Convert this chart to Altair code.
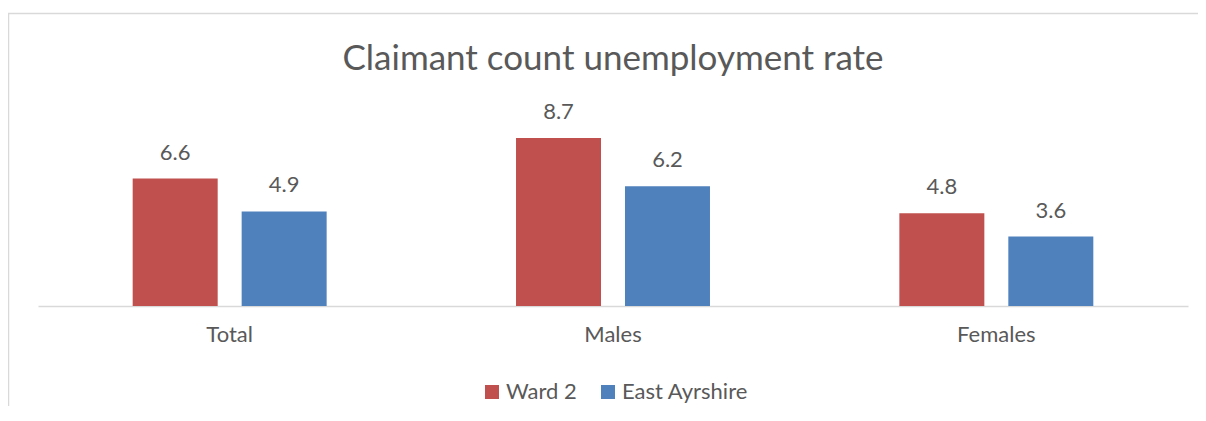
import altair as alt
import pandas as pd

categories = ["Total", "Males", "Females"]
series = ["Ward 2", "East Ayrshire"]
ward2 = [6.6, 8.7, 4.8]
east_ayrshire = [4.9, 6.2, 3.6]
title_text = "Claimant count unemployment rate"

rows = []
for i, c in enumerate(categories):
    rows.append({"Category": c, "Series": series[0], "Value": ward2[i]})
    rows.append({"Category": c, "Series": series[1], "Value": east_ayrshire[i]})
df = pd.DataFrame(rows)

FONT = "Lato"
TXT = "#595959"

frame = alt.Chart(pd.DataFrame({"a": [0]})).mark_rect(
    filled=False, stroke="#D9D9D9", strokeWidth=1.5
).encode(
    x=alt.value(-29.5), x2=alt.value(1400), y=alt.value(-99.5), y2=alt.value(500)
)

title = alt.Chart(pd.DataFrame({"t": [title_text]})).mark_text(
    fontSize=35, font=FONT, color=TXT, align="center", baseline="alphabetic"
).encode(x=alt.value(575), y=alt.value(-43.5), text="t:N")

base = alt.Chart(df).encode(
    x=alt.X("Category:N", sort=categories,
            scale=alt.Scale(paddingInner=0.494, paddingOuter=0.247),
            axis=alt.Axis(title=None, ticks=False, labelAngle=0, labelFontSize=22,
                          labelColor=TXT, labelFont=FONT, labelPadding=18,
                          domainColor="#D9D9D9", domainWidth=1.5)),
    xOffset=alt.XOffset("Series:N", sort=series,
                        scale=alt.Scale(paddingInner=0.22, paddingOuter=0)),
    y=alt.Y("Value:Q", scale=alt.Scale(domain=[0, 10], nice=False), axis=None),
)

bars = base.mark_bar().encode(
    color=alt.Color("Series:N", sort=series,
                    scale=alt.Scale(domain=series, range=["#C0504D", "#4F81BD"]),
                    legend=alt.Legend(title=None, orient="none", direction="horizontal",
                                      legendX=443, legendY=268, symbolType="square",
                                      symbolSize=196, symbolStrokeWidth=0,
                                      labelFontSize=22, labelColor=TXT, labelFont=FONT,
                                      columnPadding=20, labelOffset=3))
)

labels = base.mark_text(baseline="alphabetic", dy=-19, fontSize=22, color=TXT, font=FONT).encode(
    text=alt.Text("Value:Q", format=".1f")
)

chart = alt.layer(frame, title, bars, labels).properties(
    width=1150, height=193,
    autosize=alt.AutoSizeParams(type="none"),
    padding={"left": 30, "top": 105, "right": 10, "bottom": 100},
).configure_view(stroke=None)

chart.save("out.html", embed_options={"renderer": "svg", "actions": False})
